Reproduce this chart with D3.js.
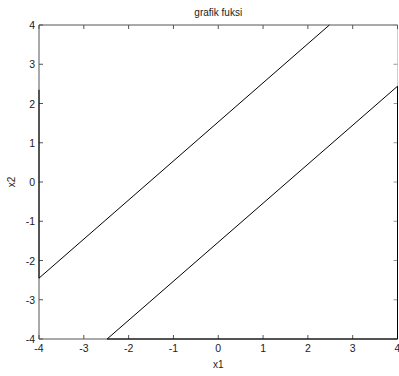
<!DOCTYPE html>
<html><head><meta charset="utf-8">
<script src="https://cdn.jsdelivr.net/npm/d3@7"></script>
<style>body{margin:0;background:#fff}svg{display:block}</style>
</head><body>
<script>
const title = "grafik fuksi";
const xLabel = "x1", yLabel = "x2";
const xTicks = [-4,-3,-2,-1,0,1,2,3,4];
const yTicks = [-4,-3,-2,-1,0,1,2,3,4];
// curve 1: left boundary + upper diagonal
const curve1X = [-4, -4, 2.48];
const curve1Y = [2.35, -2.45, 4];
// curve 2: lower diagonal + right boundary + bottom
const curve2X = [-2.48, 4, 4, -2.48];
const curve2Y = [-4, 2.44, -4, -4];

const W = 399, H = 376;
const svg = d3.select("body").append("svg").attr("width", W).attr("height", H);
const x = d3.scaleLinear().domain([-4,4]).range([39, 397.5]);
const y = d3.scaleLinear().domain([-4,4]).range([339, 25]);
const font = "Arial, 'Liberation Sans', sans-serif";
const axCol = "#555";

// box: left, top, bottom dark; right side faint
svg.append("line").attr("x1", x(-4)).attr("x2", x(4)).attr("y1", y(4)).attr("y2", y(4)).attr("stroke", axCol);
svg.append("line").attr("x1", x(-4)).attr("x2", x(4)).attr("y1", y(-4)).attr("y2", y(-4)).attr("stroke", axCol);
svg.append("line").attr("x1", x(-4)).attr("x2", x(-4)).attr("y1", y(4)).attr("y2", y(-4)).attr("stroke", axCol);
svg.append("line").attr("x1", x(4)).attr("x2", x(4)).attr("y1", y(4)).attr("y2", y(-4)).attr("stroke", "#ccc");

const tl = 4;
const g = svg.append("g");
xTicks.forEach(t => {
  g.append("line").attr("x1", x(t)).attr("x2", x(t)).attr("y1", y(-4)).attr("y2", y(-4)-tl).attr("stroke", axCol);
  g.append("line").attr("x1", x(t)).attr("x2", x(t)).attr("y1", y(4)).attr("y2", y(4)+tl).attr("stroke", axCol);
  g.append("text").attr("x", x(t)).attr("y", y(-4)+13).attr("text-anchor","middle")
    .attr("font-family", font).attr("font-size", 10.5).attr("fill","#222").text(t);
});
yTicks.forEach(t => {
  g.append("line").attr("x1", x(-4)).attr("x2", x(-4)+tl).attr("y1", y(t)).attr("y2", y(t)).attr("stroke", axCol);
  g.append("line").attr("x1", x(4)).attr("x2", x(4)-tl).attr("y1", y(t)).attr("y2", y(t)).attr("stroke", "#999");
  g.append("text").attr("x", x(-4)-4).attr("y", y(t)+4).attr("text-anchor","end")
    .attr("font-family", font).attr("font-size", 10.5).attr("fill","#222").text(t);
});

const line = d3.line().x(d => x(d[0])).y(d => y(d[1]));
const c1 = curve1X.map((v,i) => [v, curve1Y[i]]);
const c2 = curve2X.map((v,i) => [v, curve2Y[i]]);
[c1, c2].forEach(c => svg.append("path").attr("d", line(c))
  .attr("fill","none").attr("stroke","#000").attr("stroke-width",1));

svg.append("text").attr("x", x(0)).attr("y", 16).attr("text-anchor","middle")
  .attr("font-family", font).attr("font-size", 10).attr("fill","#222").text(title);
svg.append("text").attr("x", x(0)).attr("y", 368).attr("text-anchor","middle")
  .attr("font-family", font).attr("font-size", 10).attr("fill","#222").text(xLabel);
svg.append("text").attr("transform", `translate(15,${y(0)}) rotate(-90)`).attr("text-anchor","middle")
  .attr("font-family", font).attr("font-size", 10).attr("fill","#222").text(yLabel);
</script>
</body></html>
